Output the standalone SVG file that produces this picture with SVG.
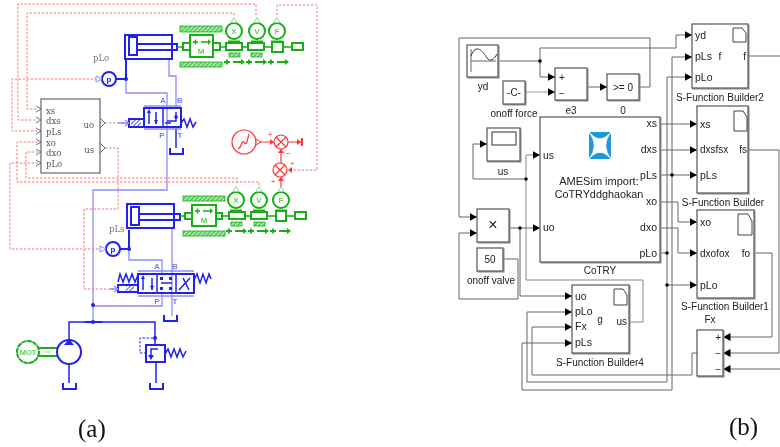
<svg xmlns="http://www.w3.org/2000/svg" width="780" height="447" viewBox="0 0 780 447">
<style>
text{font-family:"Liberation Sans",Arial,sans-serif}
.cap{font-family:"Liberation Serif","Times New Roman",serif;font-size:25px;fill:#111}
.rd{fill:none;stroke:#f77;stroke-width:1;stroke-dasharray:2.500 1.500}
.bl{fill:none;stroke:#2020ee;stroke-width:2}
.bt{fill:none;stroke:#2020ee;stroke-width:1.500}
.lb{fill:none;stroke:#8c8cff;stroke-width:1.300}
.gr{fill:none;stroke:#12b012;stroke-width:2}
.gt{fill:none;stroke:#12b012;stroke-width:1.300}
.hat{fill:url(#hatch);stroke:#12b012;stroke-width:.8}
.re{fill:none;stroke:#f33;stroke-width:1.200}
.sv{font-family:"DejaVu Serif",serif;font-size:8.500px;fill:#555}
.gl{font-size:8px;font-weight:bold;fill:#5fcf5f;text-anchor:middle}
.ab{font-size:8px;font-weight:bold;fill:#7a7af0;text-anchor:middle}
.sl{fill:none;stroke:#666;stroke-width:1}
.blk{fill:#fff;stroke:#555;stroke-width:1.200;filter:url(#sh)}
.t{font-size:10px;fill:#222}
.tc{font-size:10px;fill:#222;text-anchor:middle}
.te{font-size:10px;fill:#222;text-anchor:end}
.p{font-size:10.500px;fill:#222}
.pe{font-size:10.500px;fill:#222;text-anchor:end}
.doc{fill:#fff;stroke:#444;stroke-width:1}
</style>
<defs>
<pattern id="hatch" width="3" height="3" patternUnits="userSpaceOnUse" patternTransform="rotate(45)"><rect width="3" height="3" fill="#a8e6a8"/><rect width="1" height="3" fill="#3cc03c"/></pattern>
<pattern id="bh" width="3" height="3" patternUnits="userSpaceOnUse" patternTransform="rotate(45)"><rect width="3" height="3" fill="#fff"/><rect width="1" height="3" fill="#5050ee"/></pattern>
<filter id="sh" x="-10%" y="-10%" width="125%" height="125%"><feDropShadow dx="1" dy="1" stdDeviation=".6" flood-color="#999"/></filter>
<filter id="soft" x="0" y="0" width="780" height="447" filterUnits="userSpaceOnUse"><feGaussianBlur stdDeviation=".4"/></filter>
<marker id="ar" markerUnits="userSpaceOnUse" markerWidth="8" markerHeight="9" refX="7.500" refY="4.500" orient="auto"><path d="M0 .5L7.500 4.500L0 8.500z" fill="#000"/></marker>
<g id="sensorG"><circle r="8" fill="#fff" stroke="#12b012" stroke-width="2"/><path d="M-3 -8.500L0 -13.500L3 -8.500z" fill="#fff" stroke="#8fdc8f" stroke-width="1"/><path d="M-6 10.500H6" stroke="#12b012" stroke-width="2"/></g>
<g id="arrowG"><path d="M-3 0H3M0 -2.500V2.500M6 0H16" stroke="#12b012" stroke-width="1.800" fill="none"/><path d="M14 -3L18 0L14 3z" fill="#12b012"/></g>
<g id="tank"><path d="M0 0V6H13V0" fill="none" stroke="#2020ee" stroke-width="2"/></g>
<path id="chev" d="M-5 -3L0 0L-5 3" fill="none" stroke="#666" stroke-width=".9"/>
</defs>
<rect width="780" height="447" fill="#fff"/>

<g id="part-a" filter="url(#soft)">
<g id="signals">
<path class="rd" d="M256 15V4H18V120H38"/>
<path class="rd" d="M234 15V13H27V109H38"/>
<path class="rd" d="M97 79H12V131H38"/>
<path class="rd" d="M38 142H17V182H259V187"/>
<path class="rd" d="M38 152H26V178H237V183"/>
<path class="rd" d="M38 163H10V249H100"/>
<path class="rd" d="M105 148H118V209H84V289H114"/>
<path class="rd" d="M105 123H125"/>
<path class="rd" d="M277 15V5H317V170H290"/>
</g>
<g id="hydraulic-lines">
<path class="lb" d="M126 79V93H167V190H93V305"/>
<path class="lb" d="M169 59V76H176V108"/>
<path class="lb" d="M129 249V260H162V274"/>
<path class="lb" d="M172 228V316"/>
<path class="lb" d="M162 293V306H93V322"/>
<path class="bt" d="M176 127V148"/>
<path class="bl" d="M126 59V79M116 79H126M129 230V249M120 249H129M85 322H102"/>
<path class="bt" d="M69 340V322H155V338"/>
<circle cx="126" cy="79" r="2" fill="#2020ee"/><circle cx="129" cy="249" r="2" fill="#2020ee"/><circle cx="93" cy="305" r="2" fill="#2020ee"/><circle cx="93" cy="322" r="2" fill="#2020ee"/>
</g>

<g id="control-block">
<rect x="41" y="99" width="59" height="74" fill="#fff" stroke="#666" stroke-width="1.200"/>
<text class="sv" x="46" y="114">xs</text><text class="sv" x="46" y="124">dxs</text><text class="sv" x="46" y="135">pLs</text><text class="sv" x="46" y="146">xo</text><text class="sv" x="46" y="156">dxo</text><text class="sv" x="46" y="167">pLo</text>
<text class="sv" x="94" y="128" text-anchor="end">uo</text><text class="sv" x="94" y="153" text-anchor="end">us</text>
<use href="#chev" x="41" y="109"/><use href="#chev" x="41" y="120"/><use href="#chev" x="41" y="131"/><use href="#chev" x="41" y="142"/><use href="#chev" x="41" y="152"/><use href="#chev" x="41" y="163"/>
<path d="M100 118L105 123L100 128M100 143L105 148L100 153" fill="none" stroke="#666"/>
</g>

<g id="cylinder-top"><rect x="125" y="35" width="47" height="24" class="bl"/><rect x="129" y="37" width="8" height="18" class="bl"/><path class="bl" d="M137 44H177V50H137"/></g>
<g id="sensor-pLo"><text x="93" y="61" font-size="8.500" fill="#777" style="font-family:'DejaVu Serif',serif">pLo</text><circle cx="109" cy="79" r="7" fill="#fff" class="bl"/><path d="M102 79L96 76V82z" fill="#fff" stroke="#8c8cff"/><text class="ab" x="109" y="82" style="fill:#2020ee">p</text></g>
<g id="valve-top">
<rect x="144" y="108" width="37" height="19" class="bl"/><path class="bt" d="M163 108V127M149 112V124M156 112V124"/>
<path d="M147 113L149 109L151 113zM154 120L156 124L158 120z" fill="#2020ee"/>
<path class="bl" d="M129 119H144V127H129z"/><rect x="131" y="120" width="10" height="6" fill="url(#bh)"/>
<path class="bt" d="M167 121H176V112M165 123H171"/><circle cx="176" cy="117" r="1.800" fill="#2020ee"/>
<path class="bt" d="M181 123L184 119L187 127L190 119L193 127L196 122"/>
<path class="lb" d="M144 106H181M144 129H181"/>
<text class="ab" x="163" y="103">A</text><text class="ab" x="180" y="103">B</text><text class="ab" x="162" y="138">P</text><text class="ab" x="180" y="138">T</text>
<path class="lb" d="M118 123H129M125 120L129 123L125 126"/>
<use href="#tank" x="170" y="148"/>
</g>

<g id="mass-top">
<rect class="hat" x="180" y="26" width="42" height="6"/><rect class="hat" x="180" y="62" width="42" height="5"/>
<rect class="gr" x="190" y="35" width="23" height="22"/>
<rect class="gr" x="183" y="43" width="7" height="7"/><rect class="gr" x="213" y="43" width="7" height="7"/>
<path class="gt" d="M177 47H183M220 47H226M242 47H248M264 47H272M283 47H292"/>
<path d="M193 42H198M195.500 39.500V44.500M201 42H209" stroke="#12b012" stroke-width="1.500" fill="none"/><path d="M208 39L211 42L208 45z" fill="#12b012"/>
<text class="gl" x="201" y="54">M</text>
<use href="#sensorG" x="234" y="31"/><use href="#sensorG" x="257" y="31"/><use href="#sensorG" x="277" y="31"/>
<text class="gl" x="234" y="34">X</text><text class="gl" x="257" y="34">V</text><text class="gl" x="277" y="34">F</text>
<rect class="gr" x="226" y="43" width="16" height="7"/><rect class="gr" x="248" y="43" width="16" height="7"/><rect class="gr" x="272" y="42" width="11" height="10"/><rect class="gr" x="292" y="43" width="11" height="7"/>
<rect class="hat" x="229" y="53" width="11" height="4" stroke="none"/><rect class="hat" x="251" y="53" width="11" height="4" stroke="none"/>
<use href="#arrowG" x="227" y="62"/><use href="#arrowG" x="249" y="62"/><use href="#arrowG" x="271" y="62"/>
</g>

<g id="source">
<circle class="re" cx="244" cy="142" r="12"/><path class="re" d="M238 148C241 150 241 140 244 142C247 148 248 136 249 134"/>
<path d="M256 139L261 142L256 145z" fill="#fff" stroke="#f33"/>
<path class="re" d="M261 142H274M288 142H301"/><path d="M270 139L274 142L270 145zM297 139L301 142L297 145z" fill="#f33"/><path d="M302 138V146" stroke="#f33" stroke-width="2"/>
<circle class="re" cx="281" cy="142" r="7"/><path class="re" d="M276 137L286 147M286 137L276 147"/>
<circle class="re" cx="280" cy="170" r="7"/><path class="re" d="M275 165L285 175M285 165L275 175"/>
<path class="re" d="M281 149V163M281 177V190"/><path d="M278 153L281 149L284 153zM278 181L281 177L284 181zM292 167L288 170L292 173z" fill="#f33"/>
<text x="270" y="137" font-size="8" fill="#f33" text-anchor="middle">+</text><text x="288" y="156" font-size="8" fill="#f33" text-anchor="middle">−</text><text x="292" y="166" font-size="8" fill="#f33" text-anchor="middle">+</text><text x="273" y="184" font-size="8" fill="#f33" text-anchor="middle">+</text>
</g>

<g id="cylinder-bottom"><rect x="127" y="204" width="47" height="24" class="bl"/><rect x="131" y="207" width="8" height="18" class="bl"/><path class="bl" d="M139 214H180V220H139"/></g>
<g id="sensor-pLs"><text x="109" y="232" font-size="8.500" fill="#777" style="font-family:'DejaVu Serif',serif">pLs</text><circle cx="113" cy="249" r="7" fill="#fff" class="bl"/><path d="M106 249L100 246V252z" fill="#fff" stroke="#8c8cff"/><text class="ab" x="113" y="252" style="fill:#2020ee">p</text></g>
<g id="valve-bottom">
<rect x="138" y="274" width="56" height="19" class="bl"/><path class="bt" d="M157 274V293M176 274V293M143 278V290M152 278V290M161 283H172M179 290L190 278M183 278L189 290"/>
<path d="M141 279L143 275L145 279zM150 286L152 290L154 286z" fill="#2020ee"/>
<g fill="#2020ee"><rect x="160" y="277" width="3" height="3"/><rect x="169" y="277" width="3" height="3"/><rect x="160" y="287" width="3" height="3"/><rect x="169" y="287" width="3" height="3"/></g>
<path class="bl" d="M118 285H138V292H118z"/><rect x="126" y="286" width="8" height="5" fill="url(#bh)"/>
<path class="bt" d="M118 282L120 274L123 282L126 274L129 282L132 274L135 282L138 275M194 280L197 274L200 283L203 274L206 283L209 274L211 279"/>
<path class="lb" d="M138 271H194M138 296H194"/>
<text class="ab" x="157" y="269">A</text><text class="ab" x="175" y="269">B</text><text class="ab" x="157" y="304">P</text><text class="ab" x="175" y="304">T</text>
<path class="lb" d="M110 289H118M114 286L118 289L114 292"/>
<use href="#tank" x="164" y="315"/>
</g>

<g id="mass-bottom">
<rect class="hat" x="183" y="196" width="42" height="5"/><rect class="hat" x="183" y="231" width="42" height="5"/>
<rect class="gr" x="192" y="205" width="24" height="21"/>
<rect class="gr" x="185" y="213" width="7" height="6"/><rect class="gr" x="216" y="213" width="6" height="6"/>
<path class="gt" d="M180 216H185M222 216H229M245 216H251M267 216H276M286 216H295"/>
<path d="M195 211H200M197.500 208.500V213.500M203 211H211" stroke="#12b012" stroke-width="1.500" fill="none"/><path d="M210 208L213 211L210 214z" fill="#12b012"/>
<text class="gl" x="204" y="223">M</text>
<use href="#sensorG" x="236" y="200"/><use href="#sensorG" x="259" y="200"/><use href="#sensorG" x="281" y="200"/>
<text class="gl" x="236" y="203">X</text><text class="gl" x="259" y="203">V</text><text class="gl" x="281" y="203">F</text>
<rect class="gr" x="229" y="212" width="16" height="7"/><rect class="gr" x="251" y="212" width="16" height="7"/><rect class="gr" x="276" y="211" width="10" height="10"/><rect class="gr" x="295" y="212" width="11" height="7"/>
<rect class="hat" x="231" y="222" width="11" height="4" stroke="none"/><rect class="hat" x="254" y="222" width="11" height="4" stroke="none"/>
<use href="#arrowG" x="229" y="231"/><use href="#arrowG" x="251" y="231"/><use href="#arrowG" x="273" y="231"/>
</g>

<g id="pump">
<circle cx="28" cy="352" r="11" fill="#fff" stroke="#12b012" stroke-width="2" stroke-dasharray="5 .6"/><text x="28" y="355" font-size="7.500" font-weight="bold" fill="#5fcf5f" text-anchor="middle">MOT</text>
<path class="gr" d="M39 348H58M39 356H58"/><path d="M44 352H50" stroke="#8fdc8f"/>
<circle cx="69" cy="352" r="12" fill="#fff" class="bl"/><path d="M64 345L69 339L74 345z" fill="#2020ee"/>
<path class="bt" d="M69 364V383"/><use href="#tank" x="63" y="383"/>
</g>
<g id="relief">
<rect x="146" y="345" width="19" height="17" class="bl"/><circle cx="155" cy="338" r="2" fill="#2020ee"/><path class="bt" d="M155 338V345M158 349H151V358"/><path d="M148 355L151 360L154 355z" fill="#2020ee"/>
<path d="M153 338H140V353H146" fill="none" stroke="#2020ee" stroke-dasharray="2.500 1.500"/>
<path class="bt" d="M165 354L168 349L171 357L174 349L177 357L180 349L183 357L186 351"/>
<path class="bt" d="M156 362V383"/><use href="#tank" x="150" y="383"/>
</g>
</g>
<text class="cap" x="78" y="437">(a)</text>

<g id="connectors">
<path class="sl" d="M639 87H650V38H459V217H477" marker-end="url(#ar)"/>
<path class="sl" d="M498 61H540V77H555" marker-end="url(#ar)"/>
<path class="sl" d="M540 61V48H676V35H692" marker-end="url(#ar)"/>
<path class="sl" d="M525 92H555" marker-end="url(#ar)" style="stroke:#999"/>
<path class="sl" d="M587 87H607" marker-end="url(#ar)"/>
<path class="sl" d="M629 322H643V280H526V155H540" marker-end="url(#ar)" style="stroke:#888"/>
<path class="sl" d="M526 179H473V144H487" marker-end="url(#ar)"/>
<path class="sl" d="M509 228H540" marker-end="url(#ar)"/>
<path class="sl" d="M520 228V296H572" marker-end="url(#ar)"/>
<path class="sl" d="M503 259H518V299H459V233H477" marker-end="url(#ar)"/>
<path class="sl" d="M660 124H697" marker-end="url(#ar)"/>
<path class="sl" d="M660 150H697" marker-end="url(#ar)"/>
<path class="sl" d="M660 175H697" marker-end="url(#ar)"/>
<path class="sl" d="M660 202H678V222H697" marker-end="url(#ar)"/>
<path class="sl" d="M660 228H678V253H697" marker-end="url(#ar)"/>
<path class="sl" d="M672 175V57H692" marker-end="url(#ar)"/>
<path class="sl" d="M672 175V390H522V343H572" marker-end="url(#ar)"/>
<path class="sl" d="M660 253H667"/>
<path class="sl" d="M667 253V77H692" marker-end="url(#ar)"/>
<path class="sl" d="M667 253V382H527V312H572" marker-end="url(#ar)"/>
<path class="sl" d="M667 285H697" marker-end="url(#ar)"/>
<path class="sl" d="M697 353H692V375H532V327H572" marker-end="url(#ar)"/>
<path class="sl" d="M748 56H780"/>
<path class="sl" d="M748 150H779V353H723" marker-end="url(#ar)"/>
<path class="sl" d="M754 253H772V337H723" marker-end="url(#ar)"/>
<path class="sl" d="M780 369H723" marker-end="url(#ar)"/>
<g fill="#000" stroke="none"><circle cx="540" cy="61" r="1.800"/><circle cx="526" cy="179" r="1.800"/><circle cx="520" cy="228" r="1.800"/><circle cx="672" cy="175" r="1.800"/><circle cx="667" cy="253" r="1.800"/><circle cx="667" cy="285" r="1.800"/></g>
</g>

<g id="yd"><rect class="blk" x="467" y="45" width="31" height="32"/><path d="M471 49V72M471 61H496" class="sl"/><path d="M471 56C476 42 483 52 487 58C490 62 494 60 497 54" class="sl" style="stroke:#333"/><text class="tc" x="483" y="90">yd</text></g>
<g id="onoff-force"><rect class="blk" x="503" y="81" width="22" height="23"/><text class="tc" x="514" y="96">-C-</text><text class="tc" x="514" y="117">onoff force</text></g>
<g id="e3"><rect class="blk" x="555" y="68" width="32" height="32"/><text class="t" x="559" y="81">+</text><text class="t" x="559" y="97">−</text><text class="tc" x="571" y="114">e3</text></g>
<g id="compare"><rect class="blk" x="607" y="74" width="32" height="26"/><text class="tc" x="623" y="91">&gt;= 0</text><text class="tc" x="623" y="114">0</text></g>
<g id="CoTRY"><rect class="blk" x="540" y="117" width="120" height="145"/>
<path d="M589 132H611V159H589z" fill="#1c9ad8"/><path d="M589 132C596 141 604 141 611 132C604 141 604 150 611 159C604 150 596 150 589 159C596 150 596 141 589 132z" fill="#fff" stroke="#fff" stroke-width="1"/>
<text class="tc" x="599" y="185" style="font-size:11px">AMESim import:</text><text class="tc" x="599" y="198" style="font-size:10.800px">CoTRYddghaokan</text>
<text class="p" x="543" y="159">us</text><text class="p" x="543" y="231">uo</text>
<text class="pe" x="657" y="127">xs</text><text class="pe" x="657" y="153">dxs</text><text class="pe" x="657" y="179">pLs</text><text class="pe" x="657" y="205">xo</text><text class="pe" x="657" y="231">dxo</text><text class="pe" x="657" y="257">pLo</text>
<text class="tc" x="600" y="274">CoTRY</text></g>
<g id="us-scope"><rect class="blk" x="487" y="128" width="33" height="33"/><rect x="492" y="132" width="24" height="13" fill="#fff" stroke="#333"/><text class="tc" x="503" y="175">us</text></g>
<g id="product"><rect class="blk" x="477" y="209" width="32" height="33"/><text class="tc" x="493" y="230" style="font-size:16px">×</text></g>
<g id="onoff-valve"><rect class="blk" x="477" y="248" width="26" height="23"/><text class="tc" x="490" y="263">50</text><text class="tc" x="491" y="284">onoff valve</text></g>
<g id="sfb2"><rect class="blk" x="692" y="24" width="56" height="64"/><path class="doc" d="M733 28H742L746 33V42H733z"/><text class="p" x="695" y="39">yd</text><text class="p" x="695" y="60">pLs</text><text class="p" x="695" y="81">pLo</text><text class="tc" x="720" y="60">f</text><text class="te" x="746" y="60">f</text><text class="tc" x="720" y="101">S-Function Builder2</text></g>
<g id="sfb"><rect class="blk" x="697" y="106" width="51" height="87"/><path class="doc" d="M734 111H743L747 117V131H734z"/><text class="p" x="700" y="128">xs</text><text class="t" x="700" y="153">dxsfsx</text><text class="p" x="700" y="179">pLs</text><text class="te" x="747" y="153">fs</text><text class="tc" x="723" y="206">S-Function Builder</text></g>
<g id="sfb1"><rect class="blk" x="697" y="210" width="57" height="88"/><path class="doc" d="M738 214H748L752 221V235H738z"/><text class="p" x="700" y="226">xo</text><text class="t" x="700" y="257">dxofox</text><text class="p" x="700" y="289">pLo</text><text class="te" x="750" y="257">fo</text><text class="tc" x="725" y="310">S-Function Builder1</text></g>
<g id="sfb4"><rect class="blk" x="572" y="285" width="57" height="68"/><path class="doc" d="M614 289H623L627 295V305H614z"/><text class="p" x="575" y="300">uo</text><text class="p" x="575" y="315">pLo</text><text class="p" x="575" y="330">Fx</text><text class="p" x="575" y="346">pLs</text><text class="tc" x="600" y="323">g</text><text class="te" x="627" y="325">us</text><text class="tc" x="600" y="366">S-Function Builder4</text></g>
<g id="Fx"><rect class="blk" x="697" y="330" width="26" height="46"/><text class="te" x="721" y="341">+</text><text class="te" x="721" y="357">−</text><text class="te" x="721" y="373">−</text><text class="tc" x="710" y="323">Fx</text></g>
<text class="cap" x="729" y="435">(b)</text>
</svg>
